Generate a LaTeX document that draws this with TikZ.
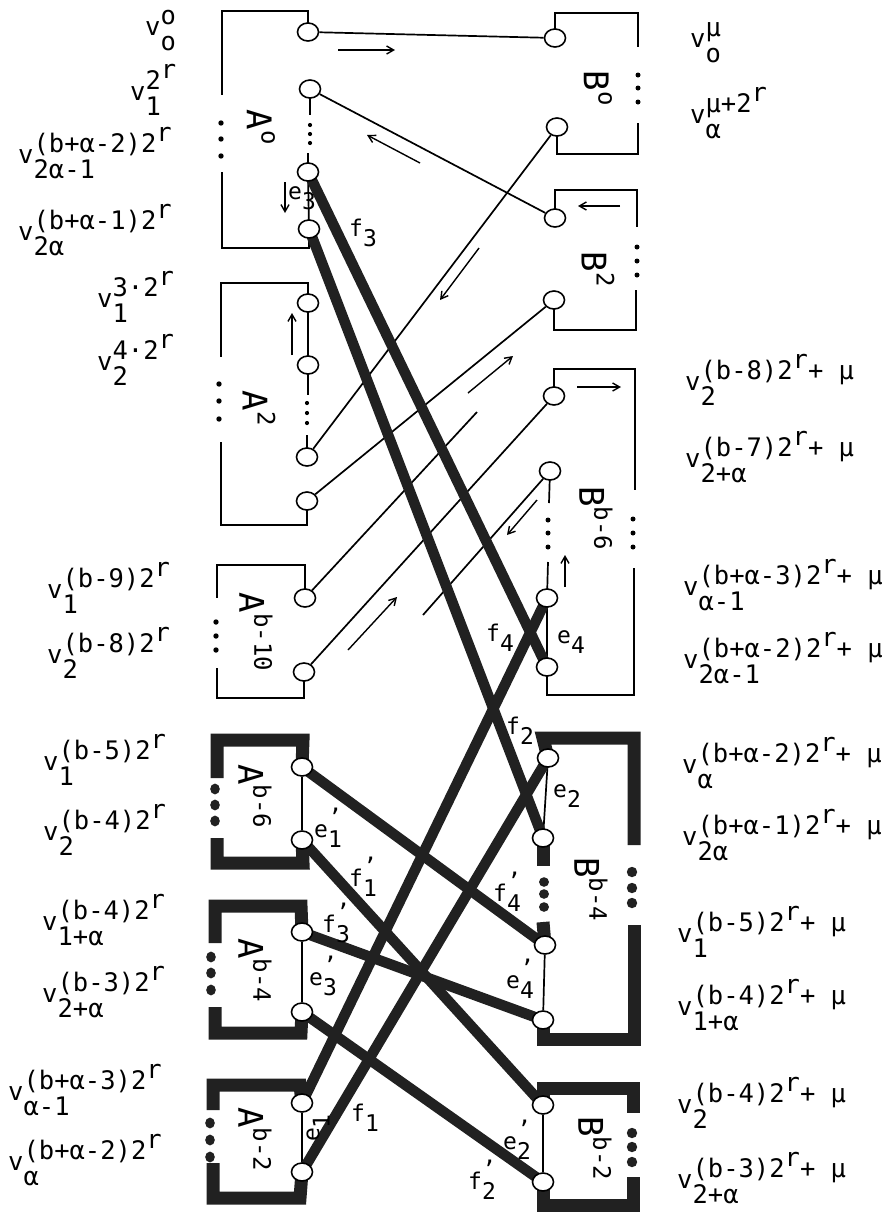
\documentclass[tikz,border=0pt]{standalone}
\usepackage{fontspec}
\setmainfont{DejaVu Sans Mono}
\usetikzlibrary{shapes.geometric,arrows.meta}
\pgfdeclarelayer{bg}
\pgfsetlayers{bg,main}
\newcommand{\vl}[2]{v\rlap{\raisebox{0.42em}{#1}}\raisebox{-0.62em}{#2}}
\newcommand{\sr}{\raisebox{0.42em}{r}}
\newcommand{\bxl}[2]{{\fontsize{34}{34}\selectfont #1}\raisebox{0.62em}{#2}}
\newcommand{\el}[2]{#1\raisebox{-0.45em}{#2}}
\newcommand{\elp}[2]{#1\rlap{\raisebox{0.5em}{’}}\raisebox{-0.45em}{#2}}
\colorlet{ink}{black!87}
\tikzset{
 vx/.style={ellipse, draw, fill=white, line width=1.6pt, minimum width=21pt, minimum height=18pt, inner sep=0pt},
 bx/.style={line width=1.7pt},
 bb/.style={line width=13pt, draw=ink, line join=miter},
 tl/.style={line width=1.7pt},
 tk/.style={line width=10.5pt, draw=ink},
 ar/.style={line width=1.4pt, -{Straight Barb[length=7pt,width=8pt]}},
 vlab/.style={anchor=base west, inner sep=0pt, font=\fontsize{25.5}{25.5}\selectfont},
 blab/.style={rotate=-90, inner sep=0pt, font=\fontsize{24}{24}\selectfont},
 elab/.style={inner sep=0pt, font=\fontsize{23}{23}\selectfont},
}
\begin{document}
\begin{tikzpicture}[x=1pt,y=-1pt]
\useasboundingbox (0,0) rectangle (887,1232);
% ---------- vertices ----------
\node[vx] (a0n1) at (308,32) {};
\node[vx] (a0n2) at (310,89) {};
\node[vx] (a0n3) at (308,172) {};
\node[vx] (a0n4) at (309,229) {};
\node[vx] (a2n1) at (308,303) {};
\node[vx] (a2n2) at (308,365) {};
\node[vx] (a2n3) at (307,457) {};
\node[vx] (a2n4) at (307,501) {};
\node[vx] (ap1) at (305,598) {};
\node[vx] (ap2) at (304,672) {};
\node[vx] (b0n1) at (555,38) {};
\node[vx] (b0n2) at (557,127) {};
\node[vx] (b2n1) at (555,218) {};
\node[vx] (b2n2) at (554,300) {};
\node[vx] (b6n1) at (554,396) {};
\node[vx] (b6n2) at (550,471) {};
\node[vx] (b6n3) at (547,598) {};
\node[vx] (b6n4) at (547,667) {};
\node[vx] (c1n1) at (302,767) {};
\node[vx] (c1n2) at (302,840) {};
\node[vx] (c2n1) at (302,932) {};
\node[vx] (c2n2) at (302,1012) {};
\node[vx] (c3n1) at (302,1103) {};
\node[vx] (c3n2) at (302,1172) {};
\node[vx] (d1n1) at (548,758) {};
\node[vx] (d1n2) at (543,838) {};
\node[vx] (d1n3) at (545,945) {};
\node[vx] (d1n4) at (543,1020) {};
\node[vx] (e1n1) at (543,1105) {};
\node[vx] (e1n2) at (543,1182) {};
\coordinate (s1) at (477,412);
\coordinate (s2) at (423,615);
\begin{pgfonlayer}{bg}
% ---------- thin boxes ----------
% A0
\draw[bx] (a0n1.center) |- (222,11) -- (222,95);
\draw[bx] (222,172) -- (222,248) -| (a0n4.center);
\draw[bx] (a0n2.center) -- (310,115);
\draw[bx] (308,153) -- (a0n3.center) -- (a0n4.center);
\foreach \y in {123,139,156} \fill (221,\y) circle[radius=2.7pt];
\foreach \y in {125,134,143} \fill (310,\y) circle[radius=2.1pt];
% A2
\draw[bx] (a2n1.center) |- (221,283) -- (221,357);
\draw[bx] (221,442) -- (221,525) -| (a2n4.center);
\draw[bx] (a2n1.center) -- (a2n2.center) -- (308,395);
\draw[bx] (307,435) -- (a2n3.center);
\foreach \y in {384,401,419} \fill (219,\y) circle[radius=2.7pt];
\foreach \y in {403,413,423} \fill (307,\y) circle[radius=2.1pt];
% A b-10
\draw[bx] (ap1.center) |- (217,565) -- (217,598);
\draw[bx] (217,668) -- (217,698) -| (ap2.center);
\foreach \y in {622,636,650} \fill (216,\y) circle[radius=2.7pt];
% B0
\draw[bx] (b0n1.center) |- (638,13) -- (638,47);
\draw[bx] (638,123) -- (638,154) -| (b0n2.center);
\foreach \y in {75,88,102} \fill (638,\y) circle[radius=2.5pt];
% B2
\draw[bx] (b2n1.center) |- (637,190) -- (637,227);
\draw[bx] (636,290) -- (636,330) -| (b2n2.center);
\foreach \y in {247,261,275} \fill (637,\y) circle[radius=2.5pt];
% B b-6
\draw[bx] (b6n1.center) |- (635,369) -- (635,490);
\draw[bx] (634,568) -- (634,695) -| (b6n4.center);
\draw[bx] (b6n2.center) -- (549,503);
\draw[bx] (548,562) -- (b6n3.center) -- (b6n4.center);
\foreach \y in {519,533,547} \fill (633,\y) circle[radius=2.5pt];
\foreach \y in {520,533,547} \fill (548,\y) circle[radius=2.5pt];
% ---------- bold boxes ----------
\draw[bb] (c1n1.center) -- (303,740) -- (217,740) -- (217,778);
\draw[bb] (217,838) -- (217,863) -- (303,863) -- (c1n2.center);
\draw[tl] (c1n1) -- (c1n2);
\foreach \y in {789,805,821} \fill[ink] (215,\y) ellipse[x radius=4.8pt, y radius=5.4pt];
\draw[bb] (c2n1.center) -- (301,906) -- (215,906) -- (215,943);
\draw[bb] (215,1007) -- (215,1033) -- (301,1033) -- (c2n2.center);
\draw[tl] (c2n1) -- (c2n2);
\foreach \y in {957,973,990} \fill[ink] (211,\y) ellipse[x radius=4.8pt, y radius=5.4pt];
\draw[bb] (c3n1.center) -- (300,1085) -- (213,1085) -- (213,1110);
\draw[bb] (213,1163) -- (213,1198) -- (300,1198) -- (c3n2.center);
\draw[tl] (c3n1) -- (c3n2);
\foreach \y in {1123,1140,1157} \fill[ink] (210,\y) ellipse[x radius=4.8pt, y radius=5.4pt];
\draw[bb] (d1n1.center) -- (543,738) -- (634,738) -- (634,845);
\draw[bb] (634,925) -- (634,1039) -- (543,1039) -- (d1n4.center);
\draw[bb] (d1n2.center) -- (543,866);
\draw[bb] (543,922) -- (d1n3.center);
\draw[tl] (d1n1) -- (d1n2);
\draw[tl] (d1n3) -- (d1n4);
\foreach \y in {882,894,907} \fill[ink] (544,\y) ellipse[x radius=5pt, y radius=4.8pt];
\foreach \y in {872,888,903} \fill[ink] (632,\y) ellipse[x radius=5.2pt, y radius=5.2pt];
\draw[bb] (e1n1.center) -- (543,1088) -- (633,1088) -- (633,1113);
\draw[bb] (633,1177) -- (633,1205) -- (543,1205) -- (e1n2.center);
\draw[tl] (e1n1) -- (e1n2);
\foreach \y in {1133,1147,1162} \fill[ink] (632,\y) ellipse[x radius=5.2pt, y radius=5.2pt];
% ---------- thin connectors ----------
\draw[tl] (a0n1) -- (b0n1);
\draw[tl] (a0n2) -- (b2n1);
\draw[tl] (b0n2) -- (a2n3);
\draw[tl] (a2n4) -- (b2n2);
\draw[tl] (ap1) -- (s1);
\draw[tl] (ap2) -- (b6n1);
\draw[tl] (b6n2) -- (s2);
% ---------- thick connectors ----------
\draw[tk] (a0n3.center) -- (b6n4.center);
\draw[tk] (a0n4.center) -- (d1n2.center);
\draw[tk] (c3n1.center) -- (b6n3.center);
\draw[tk] (c3n2.center) -- (d1n1.center);
\draw[tk] (c1n1.center) -- (d1n3.center);
\draw[tk] (c1n2.center) -- (e1n1.center);
\draw[tk] (c2n1.center) -- (d1n4.center);
\draw[tk] (c2n2.center) -- (e1n2.center);
\end{pgfonlayer}
% ---------- arrows ----------
\coordinate (p1a) at (338,50);  \coordinate (p1b) at (395,50);
\coordinate (p2a) at (420,163); \coordinate (p2b) at (367,135);
\coordinate (p3a) at (285,182); \coordinate (p3b) at (285,213);
\coordinate (p4a) at (620,206); \coordinate (p4b) at (578,206);
\coordinate (p5a) at (479,248); \coordinate (p5b) at (440,300);
\coordinate (p6a) at (292,355); \coordinate (p6b) at (292,313);
\coordinate (p7a) at (468,393); \coordinate (p7b) at (513,356);
\coordinate (p8a) at (577,387); \coordinate (p8b) at (621,387);
\coordinate (p9a) at (537,500); \coordinate (p9b) at (507,535);
\coordinate (p10a) at (565,587); \coordinate (p10b) at (565,555);
\coordinate (p11a) at (348,650); \coordinate (p11b) at (397,597);
\foreach \i in {1,...,11} \draw[ar] (p\i a) -- (p\i b);
% ---------- box labels ----------
\node[blab] (lA0) at (261,127) {\bxl{A}{o}};
\node[blab] (lA2) at (259,408) {\bxl{A}{2}};
\node[blab] (lA10) at (256,632) {\bxl{A}{b-10}};
\node[blab] (lA6) at (255,796) {\bxl{A}{b-6}};
\node[blab] (lA4) at (255,970) {\bxl{A}{b-4}};
\node[blab] (lAb2) at (255,1139) {\bxl{A}{b-2}};
\node[blab] (lB0) at (598,88) {\bxl{B}{o}};
\node[blab] (lB2) at (598,269) {\bxl{B}{2}};
\node[blab] (lB6) at (596,518) {\bxl{B}{b-6}};
\node[blab] (lB4) at (591,889) {\bxl{B}{b-4}};
\node[blab] (lBb2) at (595,1148) {\bxl{B}{b-2}};
% ---------- edge labels ----------
\node[elab] (le3) at (302,198) {\el{e}{3}};
\node[elab] (lf3) at (363,233) {\el{f}{3}};
\node[elab] (lf4) at (500,638) {\el{f}{4}};
\node[elab] (le4) at (571,642) {\el{e}{4}};
\node[elab] (lf2) at (520,731) {\el{f}{2}};
\node[elab] (le2) at (567,796) {\el{e}{2}};
\node[elab] (lf4p) at (507,892) {\elp{f}{4}};
\node[elab] (le4p) at (520,979) {\elp{e}{4}};
\node[elab] (le2p) at (517,1140) {\elp{e}{2}};
\node[elab] (lf2p) at (482,1180) {\elp{f}{2}};
\node[elab] (le1p) at (328,828) {\elp{e}{1}};
\node[elab] (lf1p) at (363,877) {\elp{f}{1}};
\node[elab] (lf3p) at (336,923) {\elp{f}{3}};
\node[elab] (le3p) at (323,976) {\elp{e}{3}};
\node[elab, rotate=90] (le1) at (318,1128) {\el{e}{1}};
\node[elab] (lf1) at (365,1118) {\el{f}{1}};
% ---------- vertex labels, left ----------
\node[vlab] (L1) at (145,35) {\vl{o}{o}};
\node[vlab] (L2) at (130,100) {\vl{2\sr}{1}};
\node[vlab] (L3) at (18,163) {\vl{(b+α-2)2\sr}{2α-1}};
\node[vlab] (L4) at (18,240) {\vl{(b+α-1)2\sr}{2α}};
\node[vlab] (L5) at (97,307) {\vl{3·2\sr}{1}};
\node[vlab] (L6) at (97,370) {\vl{4·2\sr}{2}};
\node[vlab] (L7) at (47,598) {\vl{(b-9)2\sr}{1}};
\node[vlab] (L8) at (47,663) {\vl{(b-8)2\sr}{2}};
\node[vlab] (L9) at (43,770) {\vl{(b-5)2\sr}{1}};
\node[vlab] (L10) at (43,840) {\vl{(b-4)2\sr}{2}};
\node[vlab] (L11) at (42,930) {\vl{(b-4)2\sr}{1+α}};
\node[vlab] (L12) at (42,1002) {\vl{(b-3)2\sr}{2+α}};
\node[vlab] (L13) at (8,1100) {\vl{(b+α-3)2\sr}{α-1}};
\node[vlab] (L14) at (8,1170) {\vl{(b+α-2)2\sr}{α}};
% ---------- vertex labels, right ----------
\node[vlab] (R1) at (690,47) {\vl{μ}{o}};
\node[vlab] (R2) at (690,123) {\vl{μ+2\sr}{α}};
\node[vlab] (R3) at (685,390) {\vl{(b-8)2\sr+ μ}{2}};
\node[vlab] (R4) at (685,467) {\vl{(b-7)2\sr+ μ}{2+α}};
\node[vlab] (R5) at (683,595) {\vl{(b+α-3)2\sr+ μ}{α-1}};
\node[vlab] (R6) at (683,668) {\vl{(b+α-2)2\sr+ μ}{2α-1}};
\node[vlab] (R7) at (682,773) {\vl{(b+α-2)2\sr+ μ}{α}};
\node[vlab] (R8) at (682,845) {\vl{(b+α-1)2\sr+ μ}{2α}};
\node[vlab] (R9) at (677,942) {\vl{(b-5)2\sr+ μ}{1}};
\node[vlab] (R10) at (677,1015) {\vl{(b-4)2\sr+ μ}{1+α}};
\node[vlab] (R11) at (677,1113) {\vl{(b-4)2\sr+ μ}{2}};
\node[vlab] (R12) at (677,1188) {\vl{(b-3)2\sr+ μ}{2+α}};
\end{tikzpicture}
\end{document}
